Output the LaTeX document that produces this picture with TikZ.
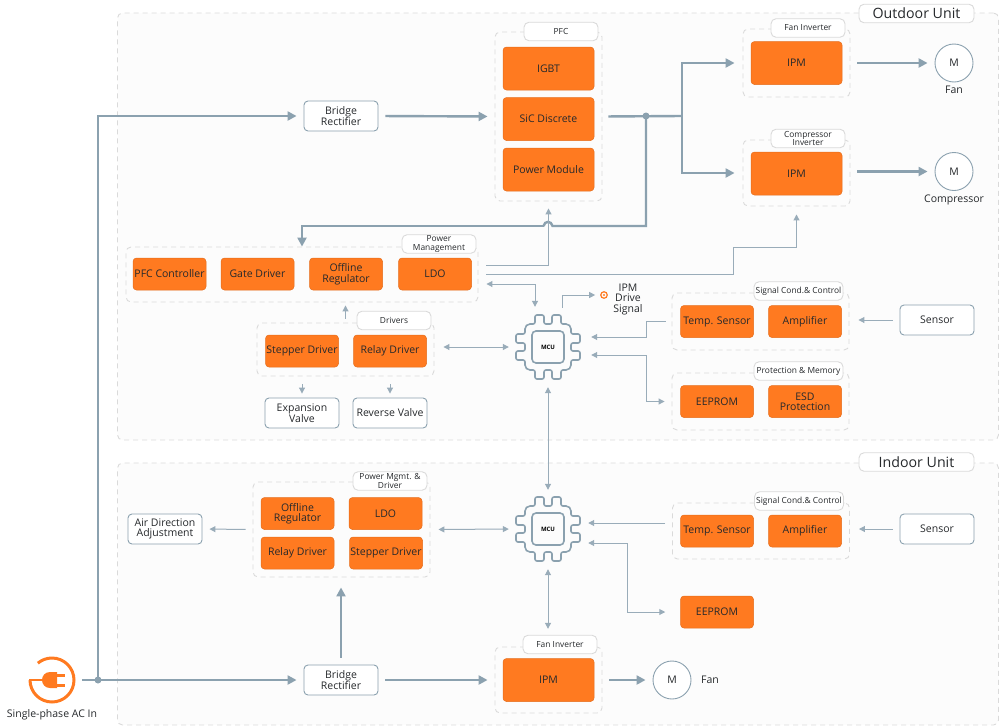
\documentclass[tikz,border=0pt]{standalone}
\usepackage{xcolor}
\usepackage{fontspec}
\usepackage{tikz}
\usetikzlibrary{arrows.meta}
\setmainfont{Open Sans}
\definecolor{accent}{HTML}{FF7A20}
\definecolor{wirecol}{HTML}{8BA1AF}
\definecolor{dashcol}{HTML}{DADADA}
\definecolor{panelcol}{HTML}{FCFCFC}
\definecolor{inkcol}{HTML}{26292C}

\begin{document}
\begin{tikzpicture}[x=1pt, y=-1pt, every node/.style={font=\fontsize{10.5}{10.5}\selectfont, text=inkcol, inner sep=0pt, align=center},
    unitbox/.style={rectangle, draw=accent!90!black, fill=accent, rounded corners=3.5pt, line width=0.5pt, minimum width=73pt, minimum height=32pt},
    bigbox/.style={unitbox, minimum width=91pt, minimum height=43pt},
    plainbox/.style={rectangle, draw=wirecol, fill=white, rounded corners=4pt, line width=0.9pt, minimum width=74pt, minimum height=30pt},
    groupbox/.style={rectangle, draw=dashcol, dashed, dash pattern=on 5pt off 4pt, fill=panelcol, rounded corners=5pt, line width=0.9pt},
    tagbox/.style={rectangle, draw=dashcol, fill=white, rounded corners=5pt, line width=0.9pt, minimum width=74pt, minimum height=18.5pt, font=\fontsize{8.4}{8.4}\selectfont},
    unittag/.style={tagbox, minimum width=115pt, font=\fontsize{14.2}{15}\selectfont},
    motor/.style={circle, draw=wirecol, fill=white, line width=0.9pt, minimum size=38pt},
    joint/.style={circle, fill=wirecol, minimum size=7pt},
    wire/.style={draw=wirecol, line width=2.4pt, -{Triangle[length=9pt,width=9pt]}, shorten >=7pt, shorten <=7pt},
    thin/.style={draw=wirecol!88!white, line width=1pt, -{Triangle[length=6pt,width=6pt]}},
    both/.style={thin, {Triangle[length=6pt,width=6pt]}-{Triangle[length=6pt,width=6pt]}},
    chip/.pic={
        \foreach \a in {0,90,180,270}
            \draw[wirecol, line width=1.6pt, rounded corners=2pt, rotate=\a] (0,-23) -- (4,-23) -- (4,-32) -- (13,-32) -- (13,-23) [rounded corners=5pt] -- (23,-23) [rounded corners=2pt] -- (23,-13) -- (32,-13) -- (32,-4) -- (23,-4) -- (23,0);
        \draw[wirecol, line width=1.6pt, rounded corners=4pt] (-16,-16) rectangle (16,16);
    }]
    \useasboundingbox (0,0) rectangle (1000,726);

    % panels
    \node (outdoor) [groupbox, minimum width=881pt, minimum height=427pt] at (558,226.5) {};
    \node (indoor) [groupbox, minimum width=881pt, minimum height=262pt] at (558,594) {};
    \node (outdoortag) [unittag] at (916.5,13.5) {Outdoor Unit};
    \node (indoortag) [unittag] at (916.5,462) {Indoor Unit};

    % outdoor unit
    \node (pfc) [groupbox, minimum width=107pt, minimum height=169pt] at (548.5,116.5) {};
    \node (pfctag) [tagbox] at (561,31.5) {PFC};
    \node (igbt) [bigbox] at (548.5,68.5) {IGBT};
    \node (sic) [bigbox, below of=igbt, node distance=50.5pt] {SiC Discrete};
    \node (module) [bigbox, below of=sic, node distance=50.5pt] {Power Module};

    \node (fan) [groupbox, minimum width=107pt, minimum height=68pt] at (796.5,63) {};
    \node (fantag) [tagbox] at (808,28) {Fan Inverter};
    \node (fanipm) [bigbox] at (796.5,63) {IPM};
    \node (comp) [groupbox, minimum width=107pt, minimum height=66pt] at (796.5,173) {};
    \node (comptag) [tagbox] at (808,138.5) {Compressor\\Inverter};
    \node (compipm) [bigbox] at (796.5,173.5) {IPM};
    \node (fanmotor) [motor] at (954,63) {M};
    \node (fanlabel) [below of=fanmotor, node distance=27pt] {Fan};
    \node (compmotor) [motor] at (954,171.5) {M};
    \node (complabel) [below of=compmotor, node distance=28.5pt] {Compressor};

    \node (power) [groupbox, minimum width=352pt, minimum height=55pt] at (302,274.5) {};
    \node (powertag) [tagbox] at (439,244) {Power\\Management};
    \node (pfcctrl) [unitbox] at (169.5,274) {PFC Controller};
    \node (gate) [unitbox, right of=pfcctrl, node distance=88pt] {Gate Driver};
    \node (offline) [unitbox, right of=gate, node distance=88.5pt] {Offline\\Regulator};
    \node (ldo) [unitbox, right of=offline, node distance=89pt] {LDO};

    \node (drivers) [groupbox, minimum width=177pt, minimum height=53pt] at (345.5,349.5) {};
    \node (driverstag) [tagbox] at (394,320.5) {Drivers};
    \node (stepper) [unitbox] at (302,351) {Stepper Driver};
    \node (relay) [unitbox, right of=stepper, node distance=88pt] {Relay Driver};
    \node (expansion) [plainbox] at (302,413) {Expansion\\Valve};
    \node (reverse) [plainbox, right of=expansion, node distance=88pt] {Reverse Valve};

    \node (mcu) [minimum size=64pt, font=\fontsize{6}{6}\selectfont\bfseries, text=black] at (548,347) {MCU};
    \pic at (mcu) {chip};
    \node (drive) [circle, draw=accent, line width=1.2pt, minimum size=6.5pt] at (604,295) {};
    \fill[accent] (drive) circle (1.2);
    \node (drivelabel) at (628,299.5) {IPM\\Drive\\Signal};

    \node (signal) [groupbox, minimum width=177pt, minimum height=57pt] at (760.5,321.5) {};
    \node (signaltag) [tagbox, minimum width=89pt] at (798.5,291) {Signal Cond.\& Control};
    \node (temp) [unitbox] at (717,321.5) {Temp. Sensor};
    \node (amp) [unitbox, right of=temp, node distance=88pt] {Amplifier};
    \node (sensor) [plainbox] at (937,320) {Sensor};
    \node (protect) [groupbox, minimum width=177pt, minimum height=57pt] at (760.5,401.5) {};
    \node (protecttag) [tagbox, minimum width=89pt] at (798.5,371) {Protection \& Memory};
    \node (eeprom) [unitbox] at (717,401.5) {EEPROM};
    \node (esd) [unitbox, right of=eeprom, node distance=88pt] {ESD\\Protection};

    % indoor unit
    \node (drive2) [groupbox, minimum width=177pt, minimum height=95pt] at (341.5,529.5) {};
    \node (drive2tag) [tagbox] at (390,481) {Power Mgmt. \&\\Driver};
    \node (offline2) [unitbox] at (297.5,513.5) {Offline\\Regulator};
    \node (ldo2) [unitbox, right of=offline2, node distance=88pt] {LDO};
    \node (relay2) [unitbox, below of=offline2, node distance=39.5pt] {Relay Driver};
    \node (stepper2) [unitbox, right of=relay2, node distance=88.5pt] {Stepper Driver};
    \node (air) [plainbox] at (165,529) {Air Direction\\Adjustment};

    \node (mcu2) [minimum size=64pt, font=\fontsize{6}{6}\selectfont\bfseries, text=black] at (548,529) {MCU};
    \pic at (mcu2) {chip};

    \node (signal2) [groupbox, minimum width=177pt, minimum height=56pt] at (761,531) {};
    \node (signal2tag) [tagbox, minimum width=89pt] at (799,501) {Signal Cond.\& Control};
    \node (temp2) [unitbox] at (717,531) {Temp. Sensor};
    \node (amp2) [unitbox, right of=temp2, node distance=88pt] {Amplifier};
    \node (sensor2) [plainbox] at (937,529) {Sensor};
    \node (eeprom2) [unitbox] at (717,612) {EEPROM};

    \node (fan2) [groupbox, minimum width=107pt, minimum height=66pt] at (548.5,680) {};
    \node (fan2tag) [tagbox] at (560,644.5) {Fan Inverter};
    \node (ipm2) [bigbox] at (548.5,680) {IPM};
    \node (motor2) [motor] at (672,680) {M};
    \node (motor2label) [right of=motor2, node distance=38pt] {Fan};

    % bridges and ac input
    \node (bridge) [plainbox] at (341,116) {Bridge\\Rectifier};
    \node (bridge2) [plainbox] at (341,680) {Bridge\\Rectifier};
    \node (acin) [minimum size=48pt] at (52,680) {};
    \node (aclabel) [below of=acin, node distance=35pt] {Single-phase AC In};
    \draw[accent, line width=3pt] (30,680) arc[start angle=180, end angle=-130, radius=22];
    \draw[accent, line width=2.5pt] (29,680) -- (acin.center);
    \fill[accent] (57,672) -- (57,688) -- (50,688) .. controls (45,688) and (42,684) .. (42,680) .. controls (42,676) and (45,672) .. (50,672) -- cycle;
    \draw[accent, line width=3pt] (57,675) -- (65,675);
    \draw[accent, line width=3pt] (57,685) -- (65,685);

    % power wires
    \coordinate (acjoint) at (98,680);
    \coordinate (pfcjoint) at (646,116);
    \coordinate (branch) at (682,116);
    \coordinate (bumpright) at (552.5,226);
    \coordinate (bumpleft) at (543.5,226);
    \draw[wire, shorten <=6pt] (acin.east) -- (bridge2.west);
    \draw[wire, shorten <=0pt] (acjoint) |- (bridge.west);
    \draw[wire] (bridge.east) -- (pfc.west);
    \draw[wire, -, shorten <=6pt, shorten >=0pt] (pfc.east) -- (branch);
    \draw[wire, shorten <=0pt, shorten >=8pt] (branch) |- (fan.west);
    \draw[wire, shorten <=0pt, shorten >=8pt] (branch) |- (comp.west);
    \draw[wire] (fan.east) -- (fanmotor.west);
    \draw[wire] (compmotor -| comp.east) -- (compmotor.west);
    \draw[wire, -, shorten <=0pt, shorten >=0pt] (pfcjoint) |- (bumpright) .. controls (551.5,220.5) and (544.5,220.5) .. (bumpleft);
    \draw[wire, shorten <=0pt, shorten >=0pt] (bumpleft) -| (power.north -| expansion);
    \draw[wire, shorten >=10pt] (bridge2.north) -- (drive2.south -| bridge2);
    \draw[wire] (bridge2.east) -- (fan2.west);
    \draw[wire, shorten >=7pt] (fan2.east) -- (motor2.west);
    \node (acdot) [joint] at (acjoint) {};
    \node (pfcdot) [joint] at (pfcjoint) {};

    % signal wires
    \draw[thin, shorten <=8pt, shorten >=7pt] ([yshift=9.5pt]power.east) -| (pfc.south);
    \coordinate (compbend) at (733,247);
    \draw[thin, shorten <=8pt, shorten >=8pt] (power.east) -| (compbend) -| (comp.south);
    \draw[both, shorten <=8pt, shorten >=8pt] ([yshift=-9.5pt]power.east) -| ([xshift=-13pt]mcu.north);
    \draw[thin, shorten <=4pt, shorten >=3pt] (drivers.north) -- (power.south -| drivers);
    \draw[thin, shorten <=8pt, shorten >=4pt] (drivers.south -| expansion) -- (expansion.north);
    \draw[thin, shorten <=8pt, shorten >=4pt] (drivers.south -| reverse) -- (reverse.north);
    \draw[both, shorten <=9pt, shorten >=7pt] (mcu.west -| drivers.east) -- (mcu.west);
    \draw[thin, shorten <=7pt, shorten >=5pt] ([xshift=14pt]mcu.north) |- (drive);
    \draw[thin, shorten <=6pt, shorten >=11pt] (signal.west) -- ++(-25,0) |- ([yshift=10pt]mcu.east);
    \draw[both, shorten <=7pt, shorten >=11pt] (protect.west) -- ++(-25,0) |- ([yshift=-8pt]mcu.east);
    \draw[thin, shorten <=7pt, shorten >=9pt] (sensor.west) -- (sensor.west -| signal.east);
    \draw[both, shorten <=8pt, shorten >=7pt] (mcu.south) -- (mcu2.north);
    \draw[both, shorten <=8pt, shorten >=6pt] (mcu2.south) -- (mcu2.south |- fan2tag.north);
    \draw[both, shorten <=8pt, shorten >=7pt] (drive2.east) -- (mcu2.west);
    \draw[thin, shorten <=7pt, shorten >=7pt] (drive2.west) -- (air.east);
    \draw[thin, shorten <=7pt, shorten >=8pt] ([yshift=6pt]mcu2.east -| signal2.west) -- ([yshift=6pt]mcu2.east);
    \draw[both, shorten <=15pt, shorten >=8pt] (eeprom2.west) -- ++(-53,0) |- ([yshift=-14pt]mcu2.east);
    \draw[thin, shorten <=7pt, shorten >=9pt] (sensor2.west) -- (sensor2.west -| signal2.east);
\end{tikzpicture}
\end{document}
